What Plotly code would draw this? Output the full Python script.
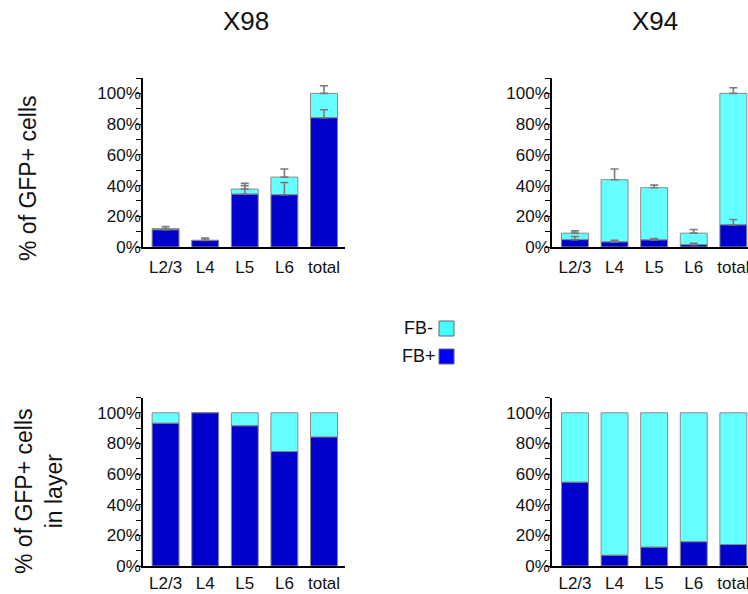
import plotly.graph_objects as go

# Layers on the x axis
layers = ["L2/3", "L4", "L5", "L6", "total"]

# X98: share of all GFP+ cells per layer (%), FB+ part and whole bar, with upper errors
x98_fbpos = [11.2, 4.3, 34.4, 34.0, 84.1]
x98_total = [12.0, 4.3, 37.7, 45.5, 100.0]
x98_fbpos_err = [0.5, 1.4, 5.5, 8.0, 5.2]
x98_total_err = [1.3, 1.4, 3.7, 5.3, 5.0]

# X94: same layout
x94_fbpos = [4.8, 3.3, 4.6, 1.5, 14.4]
x94_total = [9.0, 43.8, 38.6, 9.0, 100.0]
x94_fbpos_err = [2.0, 1.1, 0.9, 0.9, 3.5]
x94_total_err = [1.5, 7.0, 1.7, 2.4, 3.7]

# Share of FB+ cells within each layer (%)
x98_inlayer_fbpos = [93.2, 100.0, 91.5, 74.7, 84.2]
x94_inlayer_fbpos = [54.7, 7.0, 12.3, 15.8, 14.0]

y_ticks = [0, 20, 40, 60, 80, 100]
y_tick_text = ["0%", "20%", "40%", "60%", "80%", "100%"]

W, H = 748, 594
BLUE = "#0000CC"
CYAN = "#66FFFF"
EDGE = "#8A8A8A"
ERR = "#7A7A7A"
FONT = "Liberation Sans, Arial, sans-serif"


def px_x(v):
    return v / W


def px_y(v):
    return 1 - v / H


fig = go.Figure()


def add_panel(n, fbpos, total, fbpos_err=None, total_err=None):
    fbneg = [t - p for t, p in zip(total, fbpos)]
    xa = "x" if n == 1 else f"x{n}"
    ya = "y" if n == 1 else f"y{n}"

    def err(arr):
        if arr is None:
            return dict(visible=False)
        return dict(type="data", array=arr, arrayminus=[0] * len(arr),
                    symmetric=False, color=ERR, thickness=1.6, width=4)

    # FB- segment sits on top of the FB+ segment; drawn first so the FB+
    # error bars stay visible over it
    fig.add_trace(go.Bar(x=layers, y=fbneg, base=fbpos, name="FB-",
                         marker_color=CYAN,
                         marker_line=dict(color=EDGE, width=1), width=0.68,
                         error_y=err(total_err), xaxis=xa, yaxis=ya,
                         showlegend=False))
    fig.add_trace(go.Bar(x=layers, y=fbpos, name="FB+", marker_color=BLUE,
                         marker_line=dict(color=EDGE, width=1), width=0.68,
                         error_y=err(fbpos_err), xaxis=xa, yaxis=ya,
                         showlegend=False))


add_panel(1, x98_fbpos, x98_total, x98_fbpos_err, x98_total_err)
add_panel(2, x94_fbpos, x94_total, x94_fbpos_err, x94_total_err)
add_panel(3, x98_inlayer_fbpos, [100.0] * 5)
add_panel(4, x94_inlayer_fbpos, [100.0] * 5)

left_dom = [px_x(143), px_x(345)]
right_dom = [px_x(552), 1.0]
top_dom = [px_y(247), px_y(78)]
bot_dom = [px_y(566), px_y(397.5)]

xcommon = dict(type="category", showline=True, linecolor="black", linewidth=1.5,
               ticks="", showgrid=False, zeroline=False,
               automargin=False,
               tickfont=dict(family=FONT, size=17, color="#111"))
ycommon = dict(range=[0, 110], showline=True, linecolor="black", linewidth=1.5,
               ticks="outside", ticklen=5, tickwidth=1.2, tickcolor="black",
               tickvals=y_ticks, ticktext=y_tick_text, ticklabelstandoff=-8,
               minor=dict(dtick=10, ticks="outside", ticklen=5, tickwidth=1.2,
                          tickcolor="black", showgrid=False),
               showgrid=False, zeroline=False, automargin=False,
               tickfont=dict(family=FONT, size=17, color="#111"))

fig.update_layout(
    width=W, height=H,
    margin=dict(l=0, r=0, t=0, b=0),
    paper_bgcolor="white", plot_bgcolor="white",
    barmode="overlay",
    xaxis=dict(domain=left_dom, anchor="y", range=[-0.57, 4.53],
               ticklabelstandoff=4, **xcommon),
    yaxis=dict(domain=top_dom, anchor="x", **ycommon),
    xaxis2=dict(domain=right_dom, anchor="y2", range=[-0.58, 4.37],
                ticklabelstandoff=4, **xcommon),
    yaxis2=dict(domain=top_dom, anchor="x2", **ycommon),
    xaxis3=dict(domain=left_dom, anchor="y3", range=[-0.57, 4.53],
                ticklabelstandoff=1, **xcommon),
    yaxis3=dict(domain=bot_dom, anchor="x3", **ycommon),
    xaxis4=dict(domain=right_dom, anchor="y4", range=[-0.58, 4.37],
                ticklabelstandoff=1, **xcommon),
    yaxis4=dict(domain=bot_dom, anchor="x4", **ycommon),
)

annotations = [
    dict(text="X98", x=px_x(246), y=px_y(21), font=dict(size=26)),
    dict(text="X94", x=px_x(655), y=px_y(21), font=dict(size=26)),
    dict(text="% of GFP+ cells", x=px_x(28), y=px_y(178), textangle=-90,
         font=dict(size=23)),
    dict(text="% of GFP+ cells<br>in layer", x=px_x(39), y=px_y(491),
         textangle=-90, font=dict(size=23)),
    dict(text="FB-", x=px_x(435), y=px_y(328), xanchor="right",
         font=dict(size=18)),
    dict(text="FB+", x=px_x(438), y=px_y(356), xanchor="right",
         font=dict(size=18)),
]
for a in annotations:
    a.setdefault("xanchor", "center")
    a.update(xref="paper", yref="paper", yanchor="middle", showarrow=False)
    a["font"].update(family=FONT, color="#111")
fig.update_layout(annotations=annotations)

# Legend swatches
for y0, color in [(321, "#44FFFF"), (349, "#0000FF")]:
    fig.add_shape(type="rect", xref="paper", yref="paper",
                  x0=px_x(439), x1=px_x(454), y0=px_y(y0 + 15), y1=px_y(y0),
                  fillcolor=color, line=dict(color="#666", width=1))

fig.write_html("out.html")
